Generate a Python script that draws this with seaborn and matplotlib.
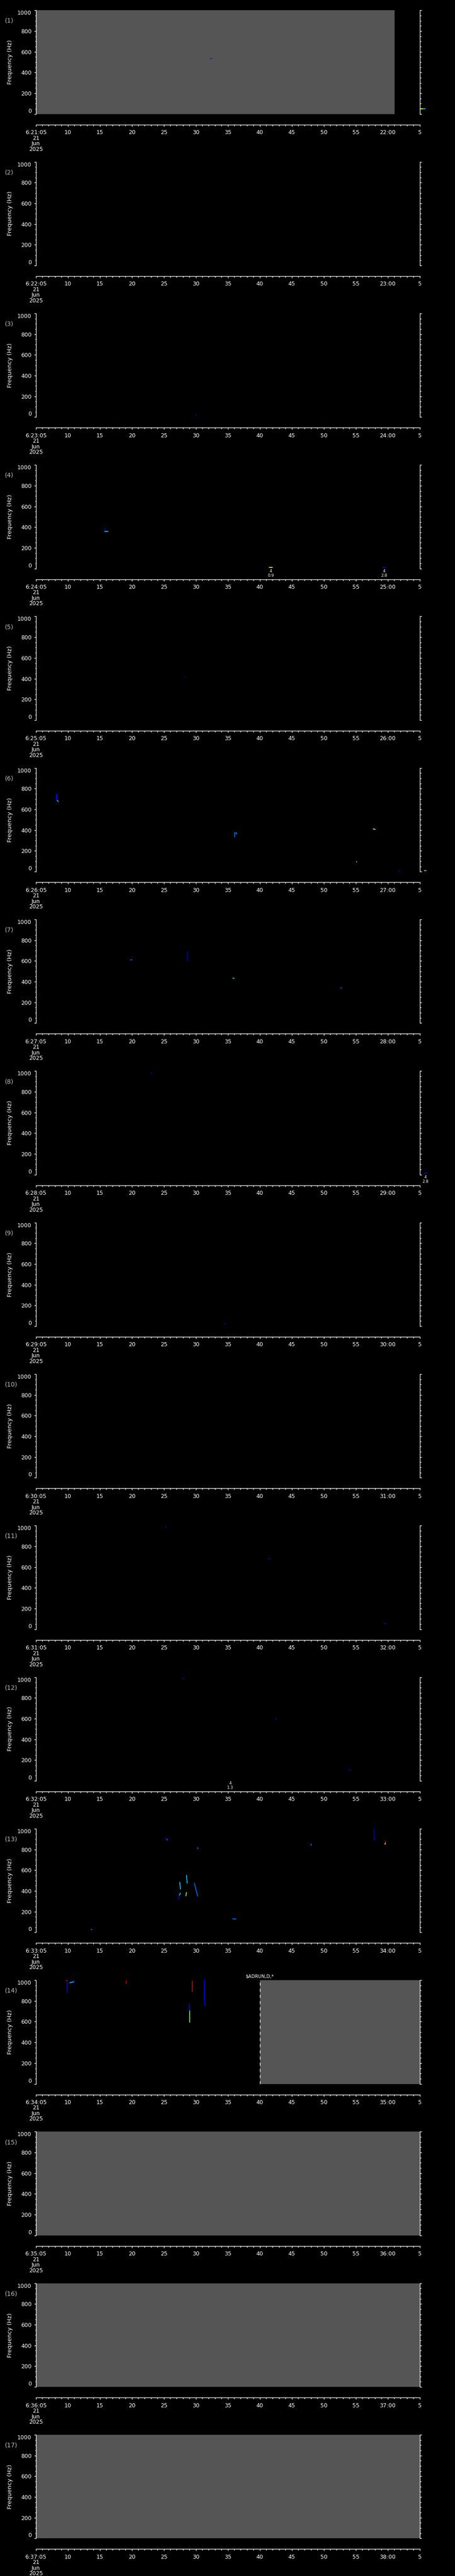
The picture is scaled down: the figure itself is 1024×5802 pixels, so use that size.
import numpy as np
import pandas as pd
import matplotlib
matplotlib.use("Agg")
import matplotlib.pyplot as plt
import seaborn as sns
from matplotlib.ticker import MultipleLocator, FixedLocator, FixedFormatter

# ---------------- data ----------------
panel_ids = list(range(1, 18))
start_minutes = [21 + i for i in range(17)]          # 6:21:05 ... 6:37:05
x_ticks = [5, 10, 15, 20, 25, 30, 35, 40, 45, 50, 55, 60, 65]   # seconds of the minute
freq_ticks = [0, 200, 400, 600, 800, 1000]

# grey "no data" blocks (panel, start s, end s)
gray_panel = [1, 14, 15, 16, 17]
gray_t0 = [5, 40, 5, 5, 5]
gray_t1 = [61.06, 65, 65, 65, 65]

# spectral traces: panel, t0, t1, f0, f1, colour
seg_panel = [1, 1, 1, 1,
             3,
             4, 4, 4, 4,
             5,
             6, 6, 6, 6, 6, 6, 6, 6, 6, 6, 6, 6,
             7, 7, 7, 7,
             8, 8,
             9,
             11, 11, 11,
             12, 12, 12,
             13, 13, 13, 13, 13, 13, 13, 13, 13, 13, 13, 13, 13, 13, 13, 13, 13,
             14, 14, 14, 14, 14, 14, 14, 14, 14, 14, 14]
seg_t0 = [32.25, 32.35, 65.2, 65.5,
          30.0,
          15.8, 15.8, 41.5, 59.3,
          28.2,
          8.2, 8.35, 8.2, 8.35, 36.1, 36.1, 36.35, 55.1, 57.75, 57.9, 61.75, 65.7,
          19.85, 28.7, 35.8, 52.65,
          23.0, 65.7,
          34.6,
          25.3, 41.5, 59.5,
          28.0, 42.5, 54.0,
          13.6, 25.3, 25.4, 30.25, 27.3, 27.45, 27.5, 28.55, 28.45, 29.8, 30.0, 35.8, 48.0, 57.9, 57.9, 59.6, 59.63,
          9.85, 9.75, 10.3, 10.9, 19.1, 29.0, 29.05, 29.45, 29.3, 31.35, 31.35]
seg_t1 = [32.35, 32.45, 65.5, 65.9,
          30.1,
          15.8, 16.3, 42.0, 59.6,
          28.3,
          8.2, 8.35, 8.35, 8.5, 36.1, 36.4, 36.35, 55.2, 57.85, 58.1, 61.85, 66.0,
          20.0, 28.7, 36.0, 52.8,
          23.1, 66.1,
          34.7,
          25.4, 41.6, 59.6,
          28.1, 42.6, 54.1,
          13.8, 25.4, 25.6, 30.35, 27.45, 27.6, 27.6, 28.65, 28.55, 30.0, 30.3, 36.3, 48.05, 57.9, 58.1, 59.63, 59.66,
          9.85, 9.85, 10.9, 10.9, 19.15, 29.0, 29.05, 29.45, 29.45, 31.35, 31.5]
seg_f0 = [533, 533, 50, 48,
          20,
          396, 357, 12, 12,
          413,
          740, 740, 740, 688, 336, 374, 374, 96, 413, 409, 10, 10,
          610, 689, 436, 340,
          985, 15,
          25,
          990, 680, 55,
          990, 600, 100,
          27, 911, 897, 817, 321, 360, 483, 551, 351, 470, 420, 130, 840, 1000, 897, 850, 865,
          997, 997, 975, 997, 967, 769, 707, 993, 895, 1000, 810]
seg_f1 = [533, 533, 50, 48,
          20,
          360, 357, 12, 12,
          413,
          688, 688, 740, 676, 374, 374, 360, 96, 413, 409, 10, 10,
          610, 597, 430, 340,
          985, 15,
          25,
          990, 680, 55,
          990, 600, 100,
          27, 897, 893, 807, 360, 378, 417, 474, 385, 420, 350, 130, 852, 897, 897, 865, 880,
          879, 997, 985, 975, 997, 707, 593, 895, 895, 810, 754]
seg_color = ["red", "blue", "yellow", "cyan",
             "blue",
             "darkblue", "cyan", "yellow", "blue",
             "darkblue",
             "blue", "blue", "blue", "cyan", "lightblue", "lightblue", "lightblue", "green", "yellow", "cyan", "blue", "green",
             "lightblue", "darkblue", "cyan", "lightblue",
             "blue", "blue",
             "blue",
             "blue", "blue", "blue",
             "blue", "blue", "blue",
             "lightblue", "blue", "lightblue", "lightblue", "blue", "cyan", "cyan", "cyan", "green", "lightblue", "lightblue",
             "lightblue", "lightblue", "darkblue", "darkblue", "yellow", "red",
             "blue", "red", "cyan", "blue", "red", "blue", "green", "red", "blue", "blue", "blue"]

# small event markers below the spectrogram (panel, time, upper text, lower text)
mark_panel = [4, 4, 8, 12]
mark_t = [41.75, 59.45, 65.9, 35.4]
mark_top = ["4", "4", "4", "4"]
mark_bot = ["0.9", "2.8", "2.8", "1.3"]

# annotation above panel 14
note_panel = 14
note_t = 40
note_text = "$ADRUN,D,*"

palette = {"blue": "#0000ff", "darkblue": "#0000b0", "lightblue": "#0070ff",
           "cyan": "#00d0ff", "green": "#80ff60", "yellow": "#ffff00", "red": "#d00000"}

# ---------------- build long table ----------------
rows = []
for i in range(len(seg_panel)):
    rows.append((seg_panel[i], i, seg_t0[i], seg_f0[i], seg_color[i]))
    rows.append((seg_panel[i], i, seg_t1[i], seg_f1[i], seg_color[i]))
segs = pd.DataFrame(rows, columns=["panel", "seg", "t", "f", "color"])

# ---------------- figure ----------------
sns.set_theme(style="ticks", rc={"axes.facecolor": "black", "figure.facecolor": "black",
                                 "axes.edgecolor": "white", "text.color": "white",
                                 "xtick.color": "white", "ytick.color": "white"})
plt.rcParams["font.family"] = ["DejaVu Sans"]

W, H = 1024, 5802
PH = H / 17.0
fig = plt.figure(figsize=(W / 100, H / 100), dpi=100)
fig.patch.set_facecolor("black")

L, R = 80.7, 944.5
T_OFF, B_OFF = 23.3, 256.7

for k, pid in enumerate(panel_ids):
    top = k * PH + T_OFF
    bot = k * PH + B_OFF
    ax = fig.add_axes([L / W, 1 - bot / H, (R - L) / W, (bot - top) / H])
    ax.set_facecolor("black")

    for gp, g0, g1 in zip(gray_panel, gray_t0, gray_t1):
        if gp == pid:
            ax.axvspan(g0, g1, color="#555555", lw=0, zorder=0)

    d = segs[segs["panel"] == pid]
    if len(d):
        sns.lineplot(data=d, x="t", y="f", hue="color", units="seg", estimator=None,
                     sort=False, palette=palette, legend=False, ax=ax, lw=1.3,
                     clip_on=False, zorder=3)

    ax.set_xlim(5, 65)
    ax.set_ylim(0, 1000)
    ax.set_xlabel("")
    ax.set_ylabel("")

    for s in ["top"]:
        ax.spines[s].set_visible(False)
    for s in ["left", "right", "bottom"]:
        ax.spines[s].set_color("white")
        ax.spines[s].set_linewidth(1.0)
    ax.spines["bottom"].set_position(("outward", 24 * 0.72))

    ax.yaxis.set_major_locator(FixedLocator(freq_ticks))
    ax.yaxis.set_minor_locator(MultipleLocator(50))
    ax.tick_params(axis="y", which="both", left=True, right=True, direction="out",
                   colors="white", width=1.0, labelsize=9, pad=4)
    ax.tick_params(axis="y", which="major", length=3.0)
    ax.tick_params(axis="y", which="minor", length=1.8)
    ylabs = ax.set_yticklabels([str(v) for v in freq_ticks])
    ylabs[0].set_va("bottom")
    ylabs[-1].set_va("top")

    m = start_minutes[k]
    xt_labels = [f"6:{m}:05\n21\nJun\n2025"] + [str(v) for v in x_ticks[1:11]] + [f"{m + 1}:00", "5"]
    ax.xaxis.set_major_locator(FixedLocator(x_ticks))
    ax.xaxis.set_minor_locator(MultipleLocator(1))
    ax.tick_params(axis="x", which="both", bottom=True, top=False, direction="out",
                   colors="white", width=1.0, labelsize=9, pad=5)
    ax.tick_params(axis="x", which="major", length=3.2)
    ax.tick_params(axis="x", which="minor", length=2.0)
    xl = ax.set_xticklabels(xt_labels)
    xl[0].set_linespacing(0.95)
    ax.grid(False)

    # y-axis title and panel number
    fig.text(23 / W, 1 - (k * PH + 140) / H, "Frequency (Hz)", rotation=90,
             ha="center", va="center", color="white", fontsize=9.5)
    fig.text(11 / W, 1 - (k * PH + 47) / H, f"({pid})", ha="left", va="center",
             color="#bbbbbb", fontsize=10)

    # event markers under the plot
    for mp, mt, a, b in zip(mark_panel, mark_t, mark_top, mark_bot):
        if mp == pid:
            ax.annotate(a, xy=(mt, 0), xycoords=("data", "axes fraction"),
                        xytext=(0, -4.3), textcoords="offset points",
                        ha="center", va="center", color="white", fontsize=6.5,
                        annotation_clip=False)
            ax.annotate(b, xy=(mt, 0), xycoords=("data", "axes fraction"),
                        xytext=(0, -11.5), textcoords="offset points",
                        ha="center", va="center", color="white", fontsize=6.5,
                        annotation_clip=False)

    if pid == note_panel:
        ax.axvline(note_t, color="white", lw=1.0, ls=(0, (5, 5)), zorder=4)
        ax.annotate(note_text, xy=(note_t, 1), xycoords=("data", "axes fraction"),
                    xytext=(0, 6), textcoords="offset points", ha="center",
                    va="center", color="white", fontsize=7.5, annotation_clip=False)

fig.savefig("out.png", dpi=100, facecolor="black")
